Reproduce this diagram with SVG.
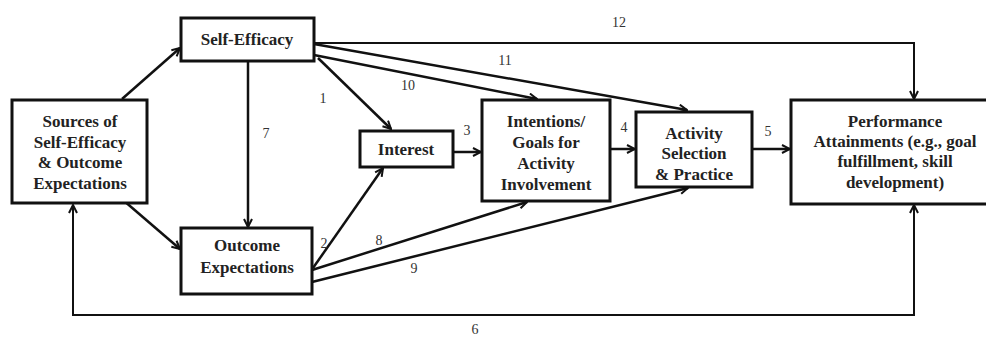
<svg xmlns="http://www.w3.org/2000/svg" width="986" height="338" viewBox="0 0 986 338">
<defs>
<style>
.box{fill:#fff;stroke:#111;stroke-width:3}
.t{font-family:"Liberation Serif","Times New Roman",serif;font-weight:bold;font-size:17px;fill:#222;text-anchor:middle}
.c{fill:none;stroke:#111;stroke-width:2.5}
.thin{fill:none;stroke:#111;stroke-width:2}
.n{font-family:"Liberation Serif","Times New Roman",serif;font-size:14px;fill:#333;text-anchor:middle}
</style>
<marker id="a" viewBox="0 0 10 10" refX="9" refY="5" markerWidth="10" markerHeight="10" markerUnits="userSpaceOnUse" orient="auto-start-reverse">
<path d="M1,1 L9,5 L1,9" fill="none" stroke="#111" stroke-width="2"/>
</marker>
</defs>
<rect width="986" height="338" fill="#fff"/>
<g id="connectors">
<line class="c" x1="122" y1="99" x2="180" y2="48" marker-end="url(#a)"/>
<line class="c" x1="123" y1="200" x2="180" y2="249" marker-end="url(#a)"/>
<line class="c" x1="248" y1="61" x2="248" y2="227" marker-end="url(#a)"/>
<line class="c" x1="318" y1="58" x2="391" y2="129" marker-end="url(#a)"/>
<line class="c" x1="314" y1="55" x2="537" y2="99" marker-end="url(#a)"/>
<line class="c" x1="314" y1="44" x2="687" y2="110" marker-end="url(#a)"/>
<polyline class="thin" points="314,43 914,43 914,99" marker-end="url(#a)"/>
<line class="c" x1="313" y1="268" x2="383" y2="168" marker-end="url(#a)"/>
<line class="c" x1="312" y1="270" x2="527" y2="202" marker-end="url(#a)"/>
<line class="c" x1="312" y1="282" x2="688" y2="188" marker-end="url(#a)"/>
<line class="c" x1="453" y1="152" x2="481" y2="152" marker-end="url(#a)"/>
<line class="c" x1="610" y1="149" x2="635" y2="149" marker-end="url(#a)"/>
<line class="c" x1="752" y1="149" x2="790" y2="149" marker-end="url(#a)"/>
<polyline class="thin" points="73,205 73,315 914,315 914,205" marker-start="url(#a)" marker-end="url(#a)"/>
<text class="n" x="619" y="27">12</text>
<text class="n" x="505" y="65">11</text>
<text class="n" x="408" y="90">10</text>
<text class="n" x="323" y="103">1</text>
<text class="n" x="266" y="138">7</text>
<text class="n" x="467" y="135">3</text>
<text class="n" x="624" y="132">4</text>
<text class="n" x="768" y="136">5</text>
<text class="n" x="324" y="248">2</text>
<text class="n" x="379" y="245">8</text>
<text class="n" x="414" y="273">9</text>
<text class="n" x="475" y="334">6</text>
</g>
<g id="sources">
<rect class="box" x="12" y="100" width="135" height="103"/>
<text class="t" x="80" y="127">Sources of</text>
<text class="t" x="80" y="148">Self-Efficacy</text>
<text class="t" x="80" y="168">&amp; Outcome</text>
<text class="t" x="80" y="189">Expectations</text>
</g>
<g id="self-efficacy">
<rect class="box" x="181" y="18" width="133" height="43"/>
<text class="t" x="247" y="45">Self-Efficacy</text>
</g>
<g id="outcome">
<rect class="box" x="181" y="228" width="131" height="66"/>
<text class="t" x="247" y="251">Outcome</text>
<text class="t" x="247" y="273">Expectations</text>
</g>
<g id="interest">
<rect class="box" x="360" y="131" width="93" height="36"/>
<text class="t" x="406" y="155">Interest</text>
</g>
<g id="intentions">
<rect class="box" x="482" y="100" width="128" height="101"/>
<text class="t" x="546" y="127">Intentions/</text>
<text class="t" x="546" y="148">Goals for</text>
<text class="t" x="546" y="169">Activity</text>
<text class="t" x="546" y="190">Involvement</text>
</g>
<g id="activity">
<rect class="box" x="636" y="112" width="116" height="75"/>
<text class="t" x="694" y="139">Activity</text>
<text class="t" x="694" y="159">Selection</text>
<text class="t" x="694" y="180">&amp; Practice</text>
</g>
<g id="performance">
<rect class="box" x="791" y="100" width="200" height="104"/>
<text class="t" x="895" y="127">Performance</text>
<text class="t" x="895" y="147">Attainments (e.g., goal</text>
<text class="t" x="895" y="167">fulfillment, skill</text>
<text class="t" x="895" y="188">development)</text>
</g>
</svg>
